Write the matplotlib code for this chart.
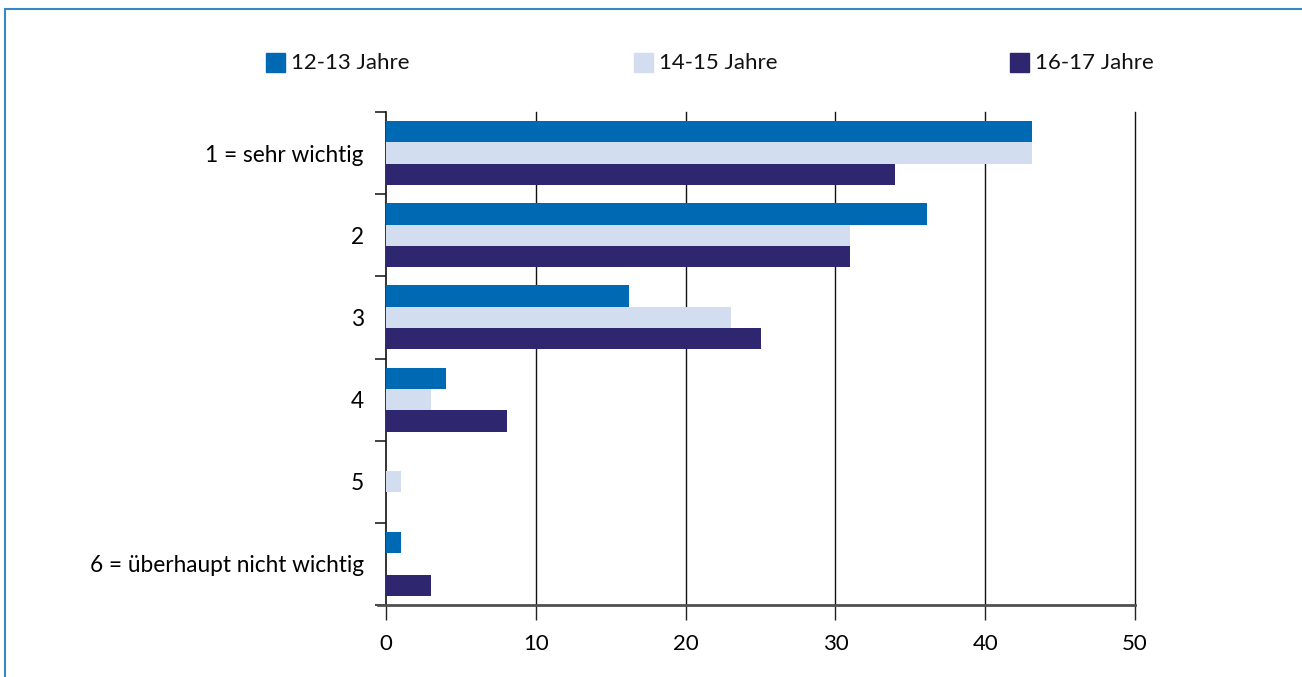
import numpy as np
import matplotlib.pyplot as plt
from matplotlib.patches import Rectangle
from matplotlib.lines import Line2D

plt.rcParams['font.family'] = ['Lato', 'DejaVu Sans']

# data
categories = ["1 = sehr wichtig", "2", "3", "4", "5", "6 = überhaupt nicht wichtig"]
series_names = ["12-13 Jahre", "14-15 Jahre", "16-17 Jahre"]
v_12_13 = [43.1, 36.1, 16.2, 4.0, 0.0, 1.0]
v_14_15 = [43.1, 31.0, 23.0, 3.0, 1.0, 0.0]
v_16_17 = [34.0, 31.0, 25.0, 8.1, 0.0, 3.0]
colors = ["#0069B4", "#D3DDF0", "#2E266E"]

fig = plt.figure(figsize=(13.02, 6.77), dpi=100)
ax = fig.add_axes([386/1302, 1-605/677, (1135-386)/1302, (605-112)/677])

y = np.arange(len(categories))
h = 0.26
for k, vals in enumerate([v_12_13, v_14_15, v_16_17]):
    ax.barh(y + (k-1)*h, vals, height=h, color=colors[k], zorder=3,
            label=series_names[k])

ax.set_xlim(0, 50)
ax.set_ylim(len(categories)-0.5, -0.5)
ax.set_xticks([0, 10, 20, 30, 40, 50])
ax.set_yticks(y, categories)
ax.set_yticks(np.arange(len(categories)+1)-0.5, minor=True)
ax.tick_params(axis='y', which='major', length=0, pad=16, labelsize=16.3)
ax.tick_params(axis='y', which='minor', length=8, width=1.2, color='#222222')
ax.tick_params(axis='x', length=11, width=1, color='#222222', pad=10, labelsize=16)

# vertical grid lines
for gx in [10, 20, 30, 40, 50]:
    ax.axvline(gx, color='#111111', linewidth=1, zorder=1, clip_on=False)

for s in ['top', 'right']:
    ax.spines[s].set_visible(False)
ax.spines['left'].set_color('#111111')
ax.spines['left'].set_linewidth(1.2)
ax.spines['bottom'].set_color('#505050')
ax.spines['bottom'].set_linewidth(2)
ax.spines['bottom'].set_bounds(-0.55, 50)
ax.spines['bottom'].set_zorder(4)

# legend, spread across the top
leg_x = [266, 634, 1010]
for k in range(3):
    fig.patches.append(Rectangle((leg_x[k]/1302, 1-72/677), 19/1302, 19/677,
                                 transform=fig.transFigure, color=colors[k]))
    fig.text((leg_x[k]+25)/1302, 1-63/677, series_names[k], fontsize=16,
             va='center', ha='left', color='#111111')

# frame lines (top and left)
fig.lines.append(Line2D([5/1302, 1], [1-9/677, 1-9/677], transform=fig.transFigure,
                        color='#3A87C8', linewidth=1.5))
fig.lines.append(Line2D([5/1302, 5/1302], [0, 1-9/677], transform=fig.transFigure,
                        color='#3A87C8', linewidth=1.5))

fig.savefig("out.png", dpi=100)
